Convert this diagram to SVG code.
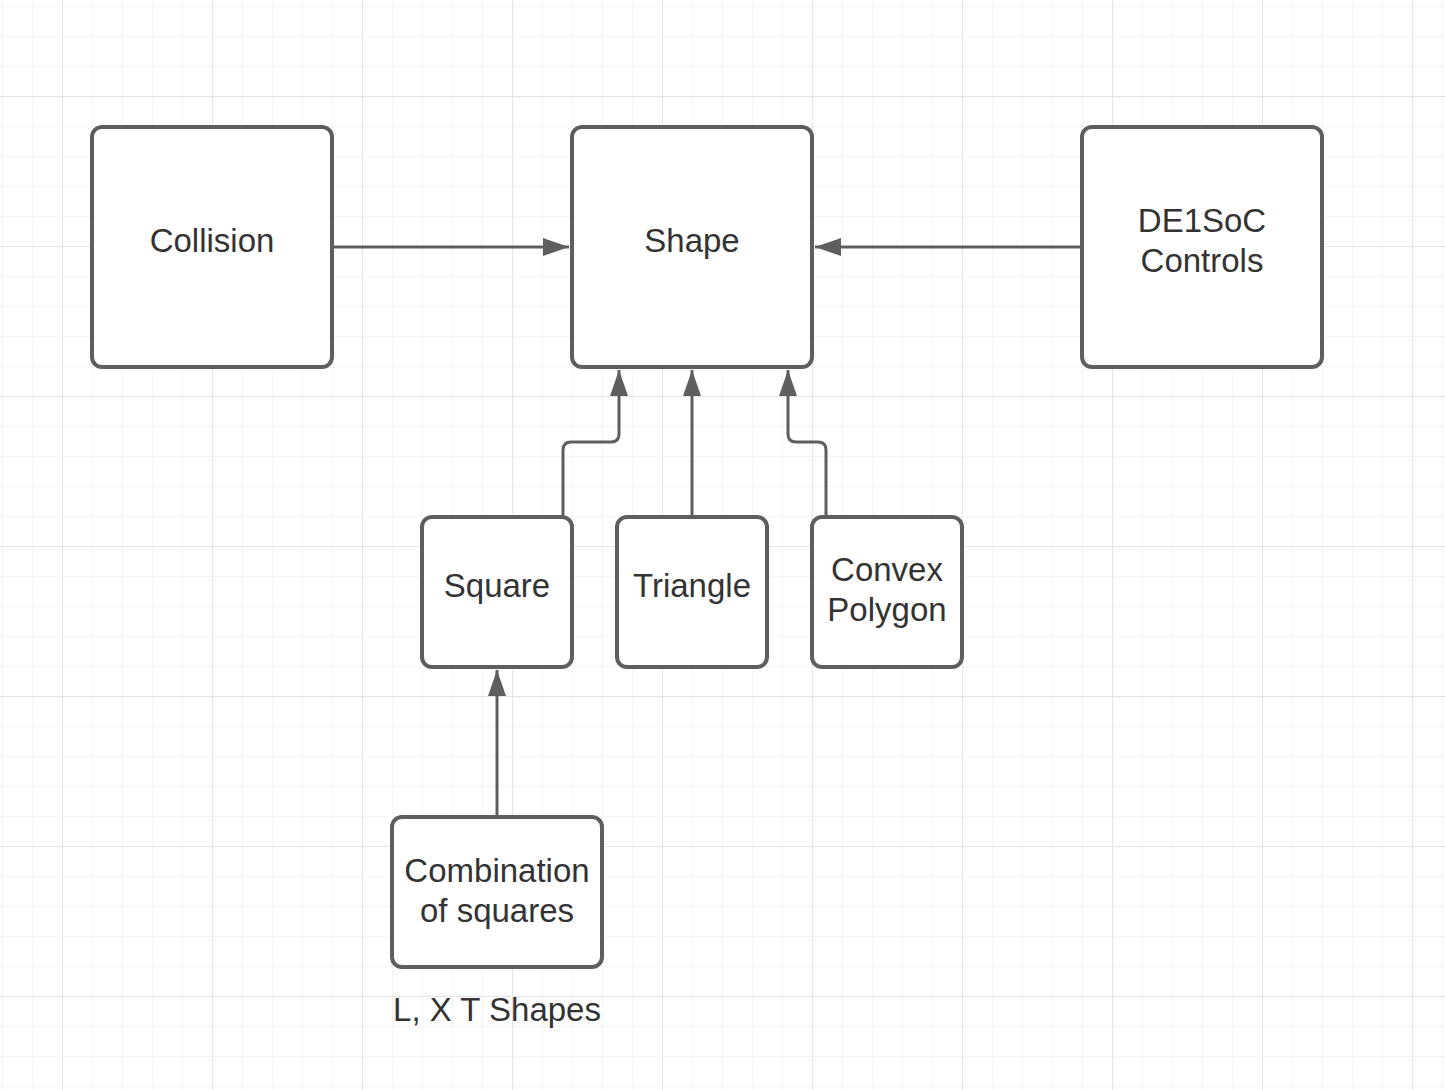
<svg xmlns="http://www.w3.org/2000/svg" width="1446" height="1090" viewBox="0 0 1446 1090">
<defs>
<pattern id="minor" x="2" y="6" width="30" height="30" patternUnits="userSpaceOnUse">
<path d="M0 0H30M0 0V30" fill="none" stroke="#ececec" stroke-width="1.2"/>
</pattern>
<pattern id="major" x="62" y="96" width="150" height="150" patternUnits="userSpaceOnUse">
<path d="M0 0H150M0 0V150" fill="none" stroke="#dedede" stroke-width="1.4"/>
</pattern>
<marker id="arr" viewBox="0 0 26 18" refX="26" refY="9" markerWidth="26" markerHeight="18" markerUnits="userSpaceOnUse" orient="auto">
<path d="M0 0L26 9L0 18Z" fill="#5e5e5e"/>
</marker>
<style>
.box{fill:#fff;stroke:#5e5e5e;stroke-width:4}
.t{font-family:"Liberation Sans",Arial,sans-serif;font-size:33px;fill:#333;text-anchor:middle}
.c{fill:none;stroke:#5e5e5e;stroke-width:3;marker-end:url(#arr)}
</style>
</defs>
<rect width="1446" height="1090" fill="#fff"/>
<rect width="1446" height="1090" fill="url(#minor)"/>
<rect width="1446" height="1090" fill="url(#major)"/>
<g id="connectors">
<path class="c" d="M332 247H569"/>
<path class="c" d="M1082 247H815"/>
<path class="c" d="M692 517V370"/>
<path class="c" d="M563 517V450Q563 442 571 442H611Q619 442 619 434V370"/>
<path class="c" d="M826 517V450Q826 442 818 442H796Q788 442 788 434V370"/>
<path class="c" d="M497 817V670"/>
</g>
<g id="collision"><rect class="box" x="92" y="127" width="240" height="240" rx="10"/><text class="t" x="212" y="252">Collision</text></g>
<g id="shape"><rect class="box" x="572" y="127" width="240" height="240" rx="10"/><text class="t" x="692" y="252">Shape</text></g>
<g id="de1soc"><rect class="box" x="1082" y="127" width="240" height="240" rx="10"/><text class="t" x="1202" y="232">DE1SoC</text><text class="t" x="1202" y="272">Controls</text></g>
<g id="square"><rect class="box" x="422" y="517" width="150" height="150" rx="10"/><text class="t" x="497" y="597">Square</text></g>
<g id="triangle"><rect class="box" x="617" y="517" width="150" height="150" rx="10"/><text class="t" x="692" y="597">Triangle</text></g>
<g id="convex"><rect class="box" x="812" y="517" width="150" height="150" rx="10"/><text class="t" x="887" y="581">Convex</text><text class="t" x="887" y="621">Polygon</text></g>
<g id="combination"><rect class="box" x="392" y="817" width="210" height="150" rx="10"/><text class="t" x="497" y="882">Combination</text><text class="t" x="497" y="922">of squares</text></g>
<g id="label"><text class="t" x="497" y="1021">L, X T Shapes</text></g>
</svg>
